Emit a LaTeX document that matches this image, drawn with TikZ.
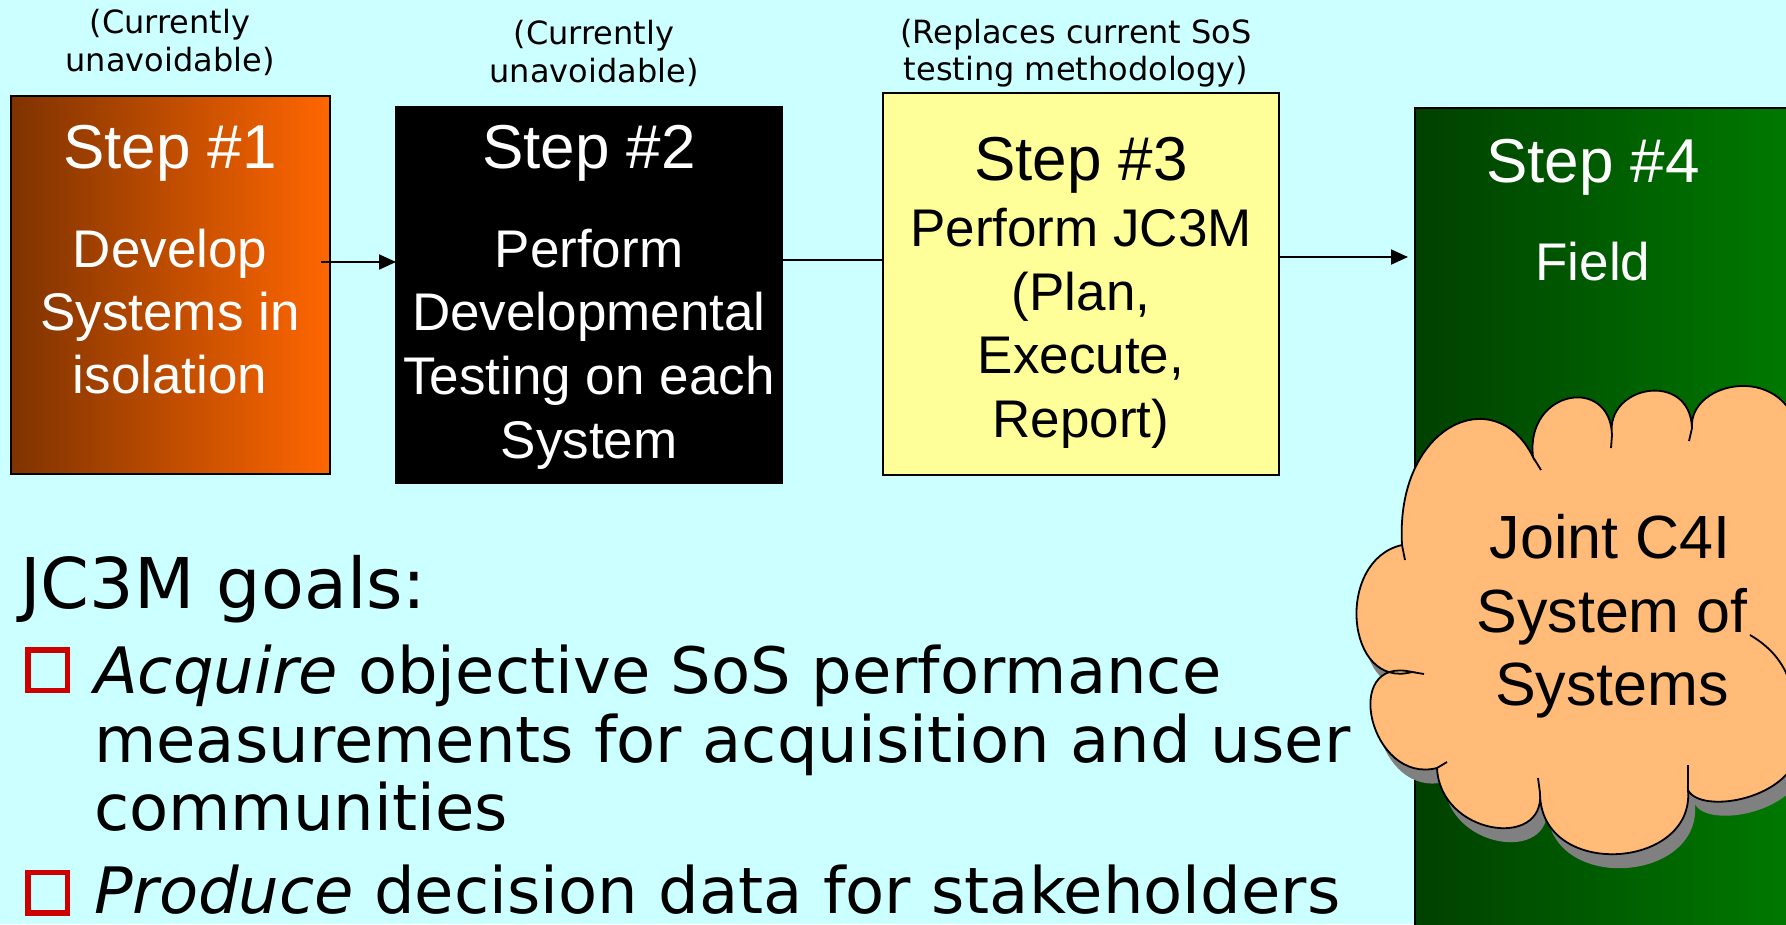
\documentclass[tikz,border=0pt]{standalone}
\usepackage{fontspec}
\setmainfont{Liberation Sans}
\newfontfamily\verd{DejaVu Sans}
\usetikzlibrary{arrows.meta,calc}
\definecolor{bgc}{HTML}{CCFFFF}
\definecolor{brownL}{HTML}{7F3300}
\definecolor{orangeR}{HTML}{FF6600}
\definecolor{greenL}{HTML}{004000}
\definecolor{greenR}{HTML}{008000}
\definecolor{yel}{HTML}{FFFF99}
\definecolor{cloudc}{HTML}{FFBB77}
\definecolor{shadowc}{HTML}{808080}
\definecolor{bulred}{HTML}{CC0000}
\newcommand\cloudpath{(1402,-545) .. controls (1395,-425) and (1495,-380) .. (1533,-457)
 .. controls (1525,-390) and (1610,-375) .. (1612,-435)
 .. controls (1605,-385) and (1690,-370) .. (1692,-428)
 .. controls (1688,-380) and (1790,-360) .. (1800,-440)
 -- (1800,-745)
 .. controls (1795,-800) and (1700,-815) .. (1688,-790)
 .. controls (1695,-870) and (1540,-880) .. (1540,-793)
 .. controls (1545,-850) and (1440,-835) .. (1437,-768)
 .. controls (1370,-785) and (1340,-655) .. (1412,-672)
 .. controls (1345,-690) and (1335,-560) .. (1402,-545) -- cycle}
\begin{document}
\begin{tikzpicture}[x=1pt,y=1pt,
  box/.style={draw=black, line width=2pt, inner sep=0pt, outer sep=0pt, anchor=north west},
  ttl/.style={anchor=base, font=\fontsize{62}{74}\selectfont, inner sep=0pt},
  body/.style={anchor=base, font=\fontsize{53}{63}\selectfont, inner sep=0pt},
  cloudtxt/.style={anchor=base, font=\fontsize{61}{73}\selectfont, inner sep=0pt},
  captxt/.style={anchor=base, font=\verd\fontsize{32}{38}\selectfont, inner sep=0pt},
  goal/.style={anchor=base west, font=\verd\fontsize{64}{69}\selectfont, inner sep=0pt},
  bullet/.style={draw=bulred, line width=5.5pt, minimum width=39.5pt, minimum height=40.5pt, inner sep=0pt},
  conn/.style={line width=2pt},
  arr/.style={conn, -{Triangle[length=17pt,width=15pt]}},
  cloudline/.style={line width=1.8pt, draw=black}]
\useasboundingbox (0,0) rectangle (1786,-924);
\clip (0,0) rectangle (1786,-924);
\fill[bgc] (0,0) rectangle (1786,-924);

% boxes
\node[box, left color=brownL, right color=orangeR, minimum width=319pt, minimum height=378pt] (b1) at (11,-96) {};
\node[box, fill=black, minimum width=386pt, minimum height=376pt] (b2) at (396,-107) {};
\node[box, fill=yel, minimum width=396pt, minimum height=382pt] (b3) at (883,-93) {};
\node[box, left color=greenL, right color=greenR, minimum width=420pt, minimum height=840pt] (b4) at (1415,-108) {};

% captions
\node[captxt] (c1a) at (170,-33) {(Currently};
\node[captxt] (c1b) at (170,-71) {unavoidable)};
\node[captxt] (c2a) at (594,-44) {(Currently};
\node[captxt] (c2b) at (594,-82) {unavoidable)};
\node[captxt] (c3a) at (1076,-43) {(Replaces current SoS};
\node[captxt] (c3b) at (1076,-80) {testing methodology)};

% box texts
\node[ttl, text=white] (t1) at (170,-168) {Step \#1};
\node[body, text=white] (t1a) at (170,-267) {Develop};
\node[body, text=white] (t1b) at (170,-330) {Systems in};
\node[body, text=white] (t1c) at (170,-393) {isolation};

\node[ttl, text=white] (t2) at (589,-168) {Step \#2};
\node[body, text=white] (t2a) at (589,-267) {Perform};
\node[body, text=white] (t2b) at (589,-330) {Developmental};
\node[body, text=white] (t2c) at (589,-394) {Testing on each};
\node[body, text=white] (t2d) at (589,-458) {System};

\node[ttl] (t3) at (1081,-180) {Step \#3};
\node[body] (t3a) at (1081,-246) {Perform JC3M};
\node[body] (t3b) at (1081,-310) {(Plan,};
\node[body] (t3c) at (1081,-373) {Execute,};
\node[body] (t3d) at (1081,-437) {Report)};

\node[ttl, text=white] (t4) at (1593,-182) {Step \#4};
\node[body, text=white] (t4a) at (1593,-280) {Field};

% connectors
\coordinate (a1s) at (321,-262);
\draw[arr] (a1s) -- (a1s -| b2.west);
\coordinate (l2) at (782,-260);
\draw[conn] (l2) -- (l2 -| b3.west);
\coordinate (a3e) at (1408,-257);
\draw[arr] (b3.east |- a3e) -- (a3e);

% cloud
\fill[shadowc, shift={(7,-14)}] \cloudpath;
\filldraw[fill=cloudc, cloudline] \cloudpath;
\draw[cloudline] (1533,-457) -- (1541,-470);
\draw[cloudline] (1612,-435) -- (1611,-448);
\draw[cloudline] (1692,-428) -- (1689,-441);
\draw[cloudline] (1750,-635) .. controls (1772,-648) and (1786,-665) .. (1792,-690);
\draw[cloudline] (1688,-790) -- (1688,-765);
\draw[cloudline] (1540,-793) -- (1538,-778);
\draw[cloudline] (1437,-768) -- (1447,-762);
\draw[cloudline] (1412,-672) -- (1424,-674);
\draw[cloudline] (1402,-545) -- (1405,-560);
\node[cloudtxt] (k1) at (1610,-558) {Joint C4I};
\node[cloudtxt] (k2) at (1612,-632) {System of};
\node[cloudtxt] (k3) at (1612,-705) {Systems};

% goals
\node[anchor=base west, font=\verd\fontsize{70}{80}\selectfont, inner sep=0pt] (g0) at (20,-608) {JC3M goals:};
\node[bullet] (q1) at (47.5,-670) {};
\node[goal] (g1) at (94,-693) {\textit{Acquire} objective SoS performance};
\node[goal] (g2) at (94,-762) {measurements for acquisition and user};
\node[goal] (g3) at (94,-830) {communities};
\node[bullet] (q2) at (47.5,-892.5) {};
\node[goal] (g4) at (94,-913) {\textit{Produce} decision data for stakeholders};
\end{tikzpicture}
\end{document}
